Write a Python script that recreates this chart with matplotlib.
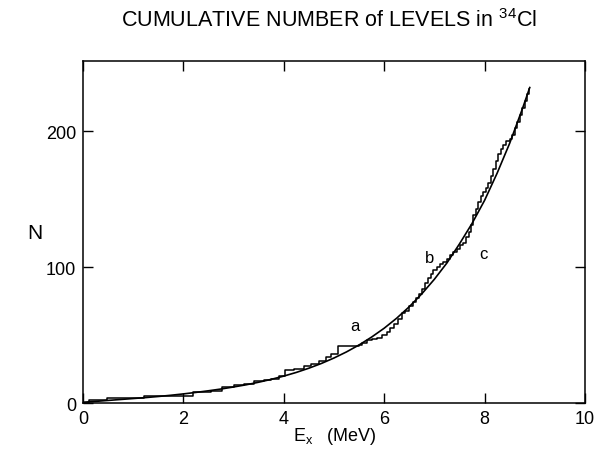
import matplotlib
matplotlib.use("Agg")
import matplotlib.pyplot as plt

plt.rcParams['font.family'] = ['Liberation Sans', 'DejaVu Sans']
plt.rcParams['mathtext.fontset'] = 'custom'
plt.rcParams['mathtext.rm'] = 'Liberation Sans'

# Smooth fitted level-density curve
fit_E = [0.00, 0.25, 0.50, 0.75, 1.00, 1.25, 1.50, 1.75, 2.00, 2.25, 2.50, 2.75,
         3.00, 3.25, 3.50, 3.75, 4.00, 4.25, 4.50, 4.75, 5.00, 5.25, 5.50, 5.75,
         6.00, 6.25, 6.50, 6.75, 7.00, 7.25, 7.50, 7.75, 8.00, 8.25, 8.50, 8.75, 8.90]
fit_N = [0.6, 1.2, 1.9, 2.6, 3.3, 4.0, 4.8, 5.7, 6.7, 7.8, 9.0, 10.3,
         11.8, 13.4, 15.3, 17.4, 19.8, 22.5, 25.6, 29.1, 33.1, 37.6, 42.7, 48.5,
         55.0, 62.4, 70.8, 80.3, 91.0, 103.0, 117.0, 132.0, 149.0, 169.0, 191.0, 216.0, 232.0]

# Experimental cumulative level count (staircase)
stair_E = [0.00, 0.12, 0.48, 1.22, 2.20, 2.55, 2.76, 3.00, 3.20, 3.40, 3.60, 3.75,
           3.90, 4.02, 4.20, 4.40, 4.55, 4.70, 4.85, 4.95, 5.08, 5.50, 5.55, 5.65,
           5.75, 5.85, 5.95, 6.05, 6.12, 6.20, 6.28, 6.35, 6.42, 6.50, 6.57, 6.63,
           6.70, 6.76, 6.82, 6.88, 6.93, 6.98, 7.05, 7.12, 7.18, 7.25, 7.32, 7.38,
           7.45, 7.52, 7.58, 7.63, 7.68, 7.72, 7.77, 7.82, 7.87, 7.92, 7.97, 8.02,
           8.07, 8.12, 8.17, 8.22, 8.27, 8.32, 8.37, 8.42, 8.50, 8.55, 8.60, 8.65,
           8.70, 8.75, 8.80, 8.85, 8.88]
stair_N = [0, 2, 4, 5, 8, 9, 12, 13, 14, 16, 17, 18,
           20, 24, 25, 27, 29, 31, 34, 36, 42, 43, 44, 46,
           47, 48, 50, 52, 55, 58, 62, 66, 68, 71, 74, 77,
           80, 84, 88, 92, 95, 98, 100, 102, 104, 106, 109, 111,
           113, 116, 118, 122, 126, 131, 138, 143, 148, 152, 155, 158,
           162, 167, 172, 178, 183, 187, 190, 193, 194, 197, 202, 207,
           212, 217, 222, 227, 231]

labels = ['a', 'b', 'c']
label_E = [5.42, 6.91, 7.97]
label_N = [57, 107, 110]

x_ticks = [0, 2, 4, 6, 8, 10]
y_ticks = [0, 100, 200]

fig = plt.figure(figsize=(6.03, 4.60), dpi=100)
ax = fig.add_axes([0.1376, 0.1217, 0.8325, 0.7435])

ax.plot(fit_E, fit_N, color='black', lw=1.2)
ax.step(stair_E, stair_N, where='post', color='black', lw=1.1)

for t, e, n in zip(labels, label_E, label_N):
    ax.text(e, n, t, fontsize=12, ha='center', va='center')

ax.set_xlim(0, 10)
ax.set_ylim(0, 251.5)
ax.set_xticks(x_ticks)
ax.set_yticks(y_ticks)
ax.tick_params(direction='in', length=7, width=1, top=True, right=True,
               labelsize=13, pad=5)
for s in ax.spines.values():
    s.set_linewidth(1.1)

ax.set_xlabel(r'E$_\mathregular{x}$   (MeV)', fontsize=13, va='center')
ax.xaxis.set_label_coords(0.502, -0.095)
ax.set_ylabel('N', fontsize=15, rotation=0, va='center', ha='center')
ax.yaxis.set_label_coords(-0.095, 0.5)
fig.text(0.545, 0.955, r'CUMULATIVE NUMBER of LEVELS in $^{34}$Cl',
         fontsize=15.5, ha='center', va='center')

fig.savefig('out.png', dpi=100)
